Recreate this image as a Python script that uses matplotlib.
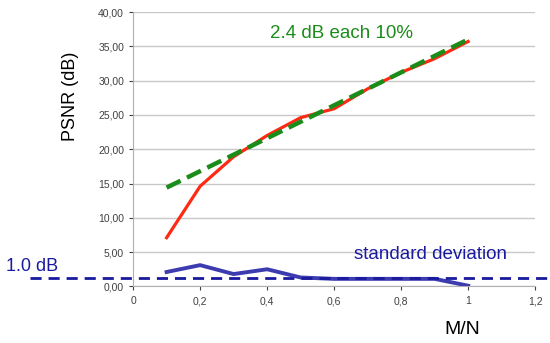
import numpy as np
import matplotlib.pyplot as plt
from matplotlib.ticker import FuncFormatter

plt.rcParams['font.family'] = ['Liberation Sans', 'DejaVu Sans']

# data
mn = [0.1, 0.2, 0.3, 0.4, 0.5, 0.6, 0.7, 0.8, 0.9, 1.0]
psnr = [7.1, 14.6, 18.9, 22.0, 24.6, 25.9, 28.8, 31.2, 33.2, 35.7]
fit_x = [0.1, 1.0]
fit_y = [14.4, 36.0]
std = [2.1, 3.1, 1.8, 2.5, 1.3, 1.1, 1.1, 1.1, 1.1, 0.1]
std_ref = 1.2
ref_x = [-0.307, 1.245]

fig = plt.figure(figsize=(5.5, 3.43), dpi=100)
ax = fig.add_axes([0.242, 0.165, 0.731, 0.8])

ax.plot(mn, psnr, color='#ff2a14', lw=2.3, zorder=3)
ax.plot(fit_x, fit_y, color='#1a8c1a', lw=3.2, ls=(0, (3.5, 1.6)), zorder=4)
ax.plot(mn, std, color='#3c3cb0', lw=2.8, zorder=3)
ax.plot(ref_x, [std_ref, std_ref], color='#1a1a9e', lw=2.0, ls=(0, (4, 2.5)),
        clip_on=False, zorder=5)

ax.set_xlim(0, 1.2)
ax.set_ylim(0, 40)
ax.set_xticks(np.arange(0, 1.21, 0.2))
ax.set_yticks(np.arange(0, 40.1, 5))
ax.xaxis.set_major_formatter(FuncFormatter(lambda v, p: '0' if v == 0 else ('%g' % round(v, 1)).replace('.', ',')))
ax.yaxis.set_major_formatter(FuncFormatter(lambda v, p: ('%.2f' % v).replace('.', ',')))
ax.tick_params(labelsize=7.5, colors='#404040', length=3, width=0.8)
ax.tick_params(axis='x', pad=4)
ax.grid(axis='y', color='#c8c8c8', lw=1)
ax.set_axisbelow(True)
for s in ['top', 'right']:
    ax.spines[s].set_visible(False)
for s in ['left', 'bottom']:
    ax.spines[s].set_color('#b0b0b0')

fig.text(0.128, 0.72, 'PSNR (dB)', rotation=90, fontsize=13, ha='center', va='center')
fig.text(0.84, 0.038, 'M/N', fontsize=14, ha='center', va='center')
fig.text(0.01, 0.222, '1.0 dB', fontsize=13, color='#1a1aa0', ha='left', va='center')
fig.text(0.643, 0.257, 'standard deviation', fontsize=13.5, color='#1a1aa0', ha='left', va='center')
fig.text(0.49, 0.903, '2.4 dB each 10%', fontsize=13.5, color='#1a8c1a', ha='left', va='center')

fig.savefig('out.png', dpi=100)
